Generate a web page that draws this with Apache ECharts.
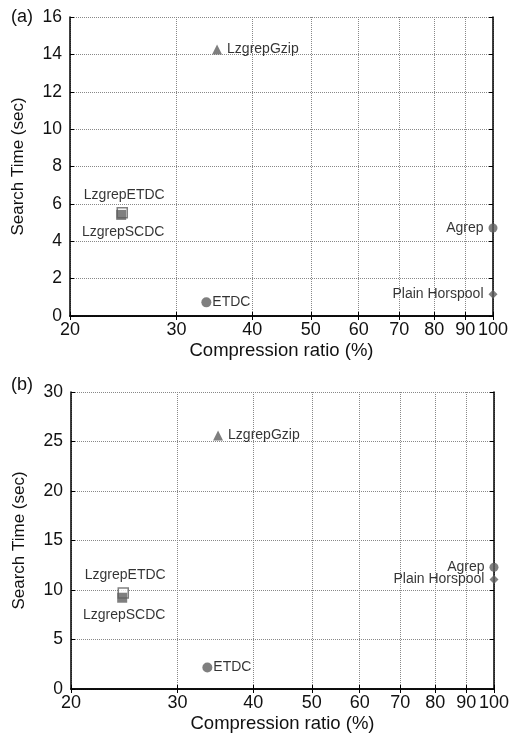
<!DOCTYPE html>
<html>
<head>
<meta charset="utf-8">
<script src="https://cdn.jsdelivr.net/npm/echarts@6/dist/echarts.min.js"></script>
<style>
  html, body { margin: 0; padding: 0; background: #fff; }
  #chart { width: 512px; height: 736px; }
</style>
</head>
<body>
<div id="chart"></div>
<script>
// data
const names = ['LzgrepETDC', 'LzgrepSCDC', 'LzgrepGzip', 'ETDC', 'Agrep', 'Plain Horspool']
const ratio = [24.4, 24.3, 35.0, 33.6, 100, 100]
const timeA = [5.53, 5.41, 14.26, 0.73, 4.71, 1.16]
const timeB = [9.7, 9.22, 25.6, 2.18, 12.3, 11.07]
const xTicks = [20, 30, 40, 50, 60, 70, 80, 90, 100]
const yTicksA = [0, 2, 4, 6, 8, 10, 12, 14, 16]
const yTicksB = [0, 5, 10, 15, 20, 25, 30]

const gray = '#5f5f5f'
const ink = '#111'
const font = 'Liberation Sans, Arial, sans-serif'

// marker look per point
const look = {
  'LzgrepETDC': { symbol: 'rect', size: 10, hollow: true, pos: 'top', dx: 2 },
  'LzgrepSCDC': { symbol: 'rect', size: 10, pos: 'bottom', dx: 2 },
  'LzgrepGzip': { symbol: 'triangle', size: 10, pos: 'right' },
  'ETDC': { symbol: 'circle', size: 10, pos: 'right', dist: 1 },
  'Agrep': { symbol: 'circle', size: 9, pos: 'left' },
  'Plain Horspool': { symbol: 'diamond', size: 9, pos: 'left' }
}

function points (times) {
  return names.map((n, i) => {
    const l = look[n]
    return {
      name: n,
      value: [ratio[i], times[i]],
      symbol: l.symbol,
      symbolSize: l.size,
      itemStyle: l.hollow
        ? { color: '#fff', borderColor: gray, borderWidth: 1.5 }
        : { color: gray },
      label: {
        show: true,
        position: l.pos,
        distance: l.dist != null ? l.dist : 5,
        offset: [l.dx || 0, 0],
        formatter: '{b}',
        color: '#000',
        fontSize: 14,
        fontFamily: font
      }
    }
  })
}

const gridLine = { show: true, lineStyle: { color: '#888', type: [1, 1], width: 1 } }

function xAxes (gridIndex) {
  return [{
    gridIndex,
    type: 'log',
    logBase: 10,
    min: 20,
    max: 100,
    name: 'Compression ratio (%)',
    nameLocation: 'middle',
    nameGap: 25,
    nameMoveOverlap: false,
    nameTextStyle: { fontSize: 18.5, color: ink, fontFamily: font },
    axisLine: { show: true, lineStyle: { color: '#000', width: 1.5 } },
    axisTick: { show: true, inside: true, length: 4, customValues: xTicks, lineStyle: { color: '#000' } },
    axisLabel: { customValues: xTicks, fontSize: 18, color: ink, fontFamily: font, margin: 5, showMinLabel: true, showMaxLabel: true },
    splitLine: gridLine
  }, {
    gridIndex,
    type: 'log',
    logBase: 10,
    min: 20,
    max: 100,
    position: 'top',
    axisLine: { show: true, lineStyle: { color: '#000', width: 1.5 } },
    axisTick: { show: true, inside: true, length: 4, customValues: xTicks, lineStyle: { color: '#000' } },
    axisLabel: { show: false },
    splitLine: { show: false }
  }]
}

function yAxes (gridIndex, max, interval, ticks) {
  return [{
    gridIndex,
    type: 'value',
    min: 0,
    max,
    interval,
    name: 'Search Time (sec)',
    nameLocation: 'middle',
    nameGap: 43,
    nameTextStyle: { fontSize: 17, color: ink, fontFamily: font },
    axisLine: { show: true, lineStyle: { color: '#000', width: 1.5 } },
    axisTick: { show: true, inside: true, length: 4, lineStyle: { color: '#000' } },
    axisLabel: { fontSize: 17.5, color: ink, fontFamily: font, margin: 8 },
    splitLine: gridLine
  }, {
    gridIndex,
    type: 'value',
    min: 0,
    max,
    interval,
    position: 'right',
    axisLine: { show: true, lineStyle: { color: '#000', width: 1.5 } },
    axisTick: { show: true, inside: true, length: 4, lineStyle: { color: '#000' } },
    axisLabel: { show: false },
    splitLine: { show: false }
  }]
}

const chart = echarts.init(document.getElementById('chart'), null, { renderer: 'canvas' })
chart.setOption({
  animation: false,
  backgroundColor: '#fff',
  title: [
    { text: '(a)', left: 6, top: 3, textStyle: { fontSize: 18, fontWeight: 'normal', color: ink, fontFamily: font } },
    { text: '(b)', left: 6, top: 371, textStyle: { fontSize: 18, fontWeight: 'normal', color: ink, fontFamily: font } }
  ],
  grid: [
    { left: 70, top: 17, width: 423, height: 299 },
    { left: 71, top: 392, width: 423, height: 297 }
  ],
  xAxis: [...xAxes(0), ...xAxes(1)],
  yAxis: [...yAxes(0, 16, 2, yTicksA), ...yAxes(1, 30, 5, yTicksB)],
  series: [
    { type: 'scatter', xAxisIndex: 0, yAxisIndex: 0, clip: false, data: points(timeA) },
    { type: 'scatter', xAxisIndex: 2, yAxisIndex: 2, clip: false, data: points(timeB) }
  ]
})
</script>
</body>
</html>
